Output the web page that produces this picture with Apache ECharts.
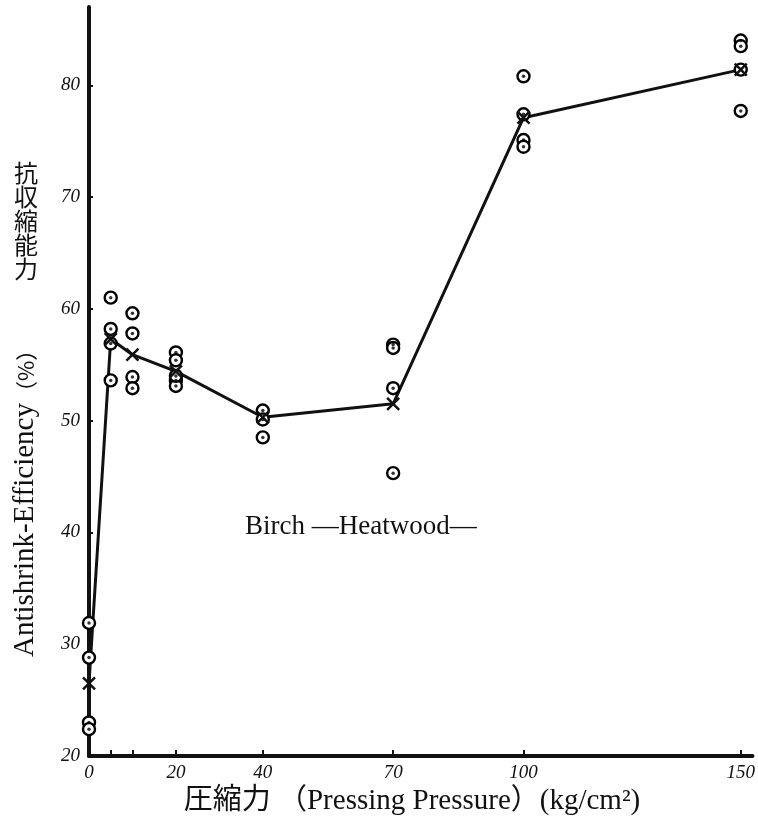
<!DOCTYPE html>
<html>
<head>
<meta charset="utf-8">
<script src="https://cdn.jsdelivr.net/npm/echarts@6/dist/echarts.min.js"></script>
<style>html,body{margin:0;padding:0;background:#fff}#c{width:758px;height:825px}</style>
</head>
<body>
<div id="c"></div>
<script>
// Individual measurements (pressure kg/cm², antishrink-efficiency %)
var obsPressure = [0,0,0,0, 5,5,5,5, 10,10,10,10, 20,20,20,20,20, 40,40,40, 70,70,70,70, 100,100,100,100, 150,150,150,150];
var obsASE      = [31.9,28.8,23.0,22.4, 61.0,58.2,56.9,53.6, 59.6,57.8,53.9,52.9, 56.1,55.4,53.6,53.1,54.0, 50.9,50.1,48.5, 56.8,56.5,52.9,45.3, 80.8,77.4,75.1,74.5, 84.0,83.5,81.4,77.7];
// Mean values (crosses) joined by line
var meanPressure = [0,5,10,20,40,70,100,150];
var meanASE      = [26.5,57.3,55.9,54.4,50.3,51.5,77.1,81.4];
// Axis ticks and labels
var xTickValues  = [0,5,10,20,40,70,100,150];
var xLabelValues = [0,20,40,70,100,150];
var yTickValues  = [20,30,40,50,60,70,80];

var obs = obsPressure.map(function(p,i){return [p, obsASE[i]];});
var mean = meanPressure.map(function(p,i){return [p, meanASE[i]];});

var chart = echarts.init(document.getElementById('c'));
var lblFont = {fontFamily:'Liberation Serif', fontStyle:'italic', fontSize:19, color:'#111'};
chart.setOption({
  animation:false,
  backgroundColor:'#fff',
  grid:{left:89, right:0, top:7, bottom:69},
  xAxis:{
    type:'value', min:0, max:152.7,
    splitLine:{show:false},
    axisLine:{lineStyle:{color:'#111', width:4}},
    axisTick:{inside:true, length:6, customValues:xTickValues, lineStyle:{color:'#111', width:2}},
    axisLabel:Object.assign({customValues:xLabelValues, margin:7}, lblFont)
  },
  yAxis:{
    type:'value', min:20, max:87,
    splitLine:{show:false},
    axisLine:{lineStyle:{color:'#111', width:4}},
    axisTick:{inside:true, length:4, customValues:yTickValues, lineStyle:{color:'#111', width:2}},
    axisLabel:Object.assign({customValues:yTickValues, margin:9}, lblFont)
  },
  series:[
    {type:'line', data:mean, symbol:'none',
     lineStyle:{color:'#111', width:3}, z:3},
    {type:'scatter', data:obs, symbol:'circle', symbolSize:12,
     itemStyle:{color:'#fff', borderColor:'#000', borderWidth:2.4, opacity:1}, z:4},
    {type:'scatter', data:obs, symbol:'circle', symbolSize:3.5,
     itemStyle:{color:'#000'}, z:5},
    {type:'scatter', data:mean, symbol:'path://M-1,-1L1,1M1,-1L-1,1', symbolSize:12,
     itemStyle:{color:'none', borderColor:'#111', borderWidth:2.5, opacity:1}, z:6}
  ],
  graphic:[
    {type:'text', left:14, top:161, style:{text:'抗\n収\n縮\n能\n力', fontFamily:'Noto Sans CJK JP', fontSize:24, lineHeight:24, fill:'#111'}},
    {type:'text', x:11, y:657, rotation:Math.PI/2, style:{
      text:'{a|Antishrink-Efficiency}{b|（%）}',
      textVerticalAlign:'top',
      rich:{a:{fontFamily:'Liberation Serif', fontSize:29, fill:'#111'},
            b:{fontFamily:'Noto Sans CJK JP', fontSize:22, fill:'#111'}}}},
    {type:'text', x:412, y:801, style:{text:'圧縮力 （Pressing Pressure）(kg/cm²)', fontFamily:'Liberation Serif, Noto Sans CJK JP', fontSize:29, fill:'#111', textAlign:'center', textVerticalAlign:'middle'}},
    {type:'text', x:245, y:527, style:{text:'Birch —Heatwood—', fontFamily:'Liberation Serif', fontSize:27, fill:'#111', textVerticalAlign:'middle'}}
  ]
});
</script>
</body>
</html>
